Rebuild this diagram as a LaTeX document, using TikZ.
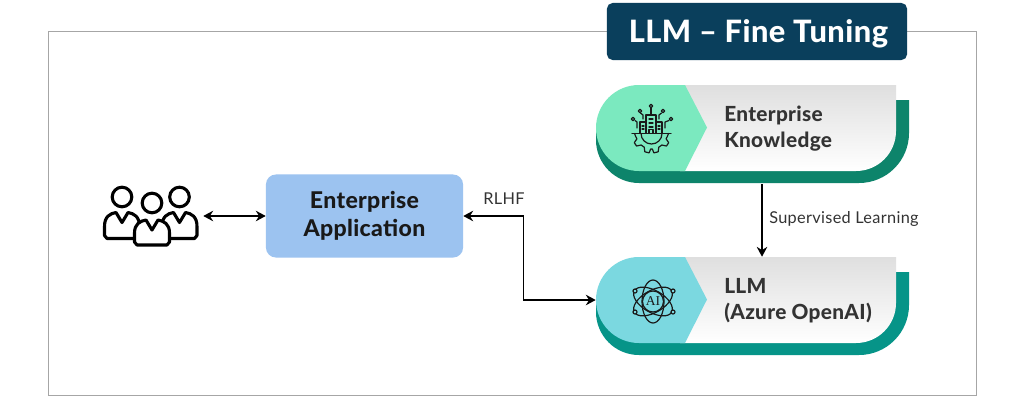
\documentclass[tikz,border=0pt]{standalone}
\usepackage{fontspec}
\setmainfont{Lato}[LetterSpace=2]
\newfontfamily\heavyfont{Lato Heavy}[LetterSpace=1.5]
\usetikzlibrary{arrows.meta}
\definecolor{navy}{HTML}{0A3F5C}
\definecolor{appblue}{HTML}{9CC3F0}
\definecolor{mint}{HTML}{7BE9BF}
\definecolor{mintdark}{HTML}{0D846B}
\definecolor{aqua}{HTML}{7BD8E0}
\definecolor{aquadark}{HTML}{069488}
\definecolor{ink}{HTML}{333333}
\definecolor{icon}{HTML}{1A1A1A}
\definecolor{framegray}{HTML}{A6A6A6}
\definecolor{cardtop}{HTML}{DFDFDF}
\newcommand{\cardshapes}[4]{% top y, tip y, left colour, shadow colour
  \fill[#4] (896,#1+15) -- (909,#1+15) -- (909,#1+48) arc[start angle=0,end angle=90,radius=50] -- (639,#1+98) arc[start angle=90,end angle=180,radius=43] -- (596,#1+43) -- cycle;
  \shade[top color=cardtop,bottom color=white] (680,#1) -- (896,#1) -- (896,#1+46) arc[start angle=0,end angle=90,radius=40] -- (680,#1+86) -- cycle;
  \fill[#3] (685,#1) -- (639,#1) arc[start angle=270,end angle=90,radius=43] -- (685,#1+86) -- (707,#2) -- cycle;
}
\tikzset{
  x=0.025cm,y=-0.025cm,
  cardanchor/.style={minimum width=7.5cm,minimum height=2.15cm,inner sep=0pt},
  cardtext/.style={anchor=base west,inner sep=0pt,text=ink,font=\heavyfont\fontsize{14.8}{17}\selectfont},
  plainlabel/.style={anchor=base west,inner sep=0pt,text=ink,font=\fontsize{11.6}{13}\selectfont},
  flow/.style={line width=1.05pt,black,-{Stealth[length=7pt,width=7.5pt]}},
  twoway/.style={line width=1.05pt,black,{Stealth[length=7pt,width=7.5pt]}-{Stealth[length=7pt,width=7.5pt]}},
  iconline/.style={draw=icon,line width=0.85pt,line join=round,line cap=round},
  personline/.style={draw=black,line width=2.2pt,line join=round,fill=white},
}
\begin{document}
\begin{tikzpicture}
\useasboundingbox (0,0) rectangle (1024,402);
\fill[white] (0,0) rectangle (1024,402);
\draw[draw=framegray,line width=0.7pt] (48,31) rectangle (976,395);
% title
\node[fill=navy,rounded corners=4pt,minimum width=7.5cm,minimum height=1.425cm,inner sep=0pt] (title) at (757,31.5) {};
\node[anchor=base,inner sep=0pt,text=white,font=\heavyfont\fontsize{21.9}{26}\selectfont] (titletext) at (758.5,42) {LLM – Fine Tuning};
% cards
\cardshapes{85}{127.5}{mint}{mintdark}
\cardshapes{257}{299.5}{aqua}{aquadark}
\node[cardanchor] (kb) at (746,128) {};
\node[cardanchor] (llm) at (746,300) {};
\node[cardtext] (kb1) at (724,121) {Enterprise};
\node[cardtext] (kb2) at (724,147) {Knowledge};
\node[cardtext] (llm1) at (724,293) {LLM};
\node[cardtext] (llm2) at (724,319) {(Azure OpenAI)};
% application
\node[fill=appblue,rounded corners=7pt,minimum width=4.925cm,minimum height=2.075cm,inner sep=0pt,align=center,text=black!90,font=\heavyfont\fontsize{16.4}{20.3}\selectfont] (app) at (364.5,216) {Enterprise\\Application};
% people
\node[minimum width=2.6cm,minimum height=1.5cm,inner sep=0pt] (people) at (151,216) {};
\foreach \cx/\bt/\cyh/\bl in {122/212.5/197/238.5,179.5/212.5/197/238.5,152/220/203/245}{
  \draw[personline] (\cx,\cyh) circle[radius=9.8];
  \draw[personline] (\cx-17.5,\bl-3) -- (\cx-17.5,\bl-12) .. controls (\cx-17.5,\bt+4) and (\cx-12,\bt+1) .. (\cx-6,\bt) -- (\cx,\bt+10) -- (\cx+6,\bt) .. controls (\cx+12,\bt+1) and (\cx+17.5,\bt+4) .. (\cx+17.5,\bl-12) -- (\cx+17.5,\bl-3) -- (\cx+15,\bl) -- (\cx-15,\bl) -- cycle;
}
% connectors
\draw[twoway] (people.east) -- (app.west);
\draw[twoway] (app.east) -- ++(60,0) |- (llm.west);
\draw[flow] ([xshift=0.4cm,yshift=-0.325cm]kb.south) -- ([xshift=0.4cm]llm.north);
\node[plainlabel] (superv) at (769,223) {Supervised Learning};
\node[plainlabel] (rlhf) at (483,204) {RLHF};
% knowledge icon
\begin{scope}[iconline]
  \draw (646,133) -- (646,115) -- (656,115) -- (656,133);
  \draw (646,122) -- (640,122) -- (640,133);
  \draw (656,122) -- (662,122) -- (662,133);
  \draw (649,119) -- (653,119) (649,123) -- (653,123) (649,127) -- (653,127) (649,133) -- (649,129.5) -- (653,129.5) -- (653,133);
  \draw (642,126) -- (644,126) (642,129) -- (644,129) (658,126) -- (660,126) (658,129) -- (660,129);
  \draw (632,133.5) -- (671,133.5);
  \draw (651,115) -- (651,108);
  \draw (651,106) circle[radius=1.8];
  \draw (643,119) -- (643,115) -- (640.5,113);
  \draw (640,111) circle[radius=1.8];
  \draw (659,119) -- (659,115) -- (661.5,113);
  \draw (663,111) circle[radius=1.8];
  \draw (637,128) -- (637,122) -- (635,120.5);
  \draw (633,119) circle[radius=1.8];
  \draw (665,128) -- (665,122) -- (669,120.5);
  \draw (671,119) circle[radius=1.8];
  \begin{scope}[shift={(651.5,133.5)}]
    \draw (-10.5,0) arc[start angle=180,end angle=0,radius=10.5];
    \draw (-17,0) -- (168:16) -- (160:15.5) -- (152:19.5) -- (140:19.5) -- (132:15.5) -- (118:15.5) -- (110:19.5) -- (97:19.5) -- (93:15.5) -- (87:15.5) -- (83:19.5) -- (70:19.5) -- (62:15.5) -- (48:15.5) -- (40:19.5) -- (28:19.5) -- (20:15.5) -- (12:16) -- (17,0);
  \end{scope}
\end{scope}
% atom icon
\begin{scope}[iconline]
  \draw (653,301.5) ellipse[x radius=11,y radius=21.5];
  \draw[rotate around={60:(653,301.5)}] (653,301.5) ellipse[x radius=11,y radius=21.5];
  \draw[rotate around={-60:(653,301.5)}] (653,301.5) ellipse[x radius=11,y radius=21.5];
  \draw[fill=aqua] (653,301.5) circle[radius=10.5];
  \foreach \sx/\sy in {635/291,673/291,635/312,673/312}{
    \draw[fill=aqua] (\sx,\sy) circle[radius=2];
  }
\end{scope}
\node[inner sep=0pt,text=icon,font=\fontspec{Liberation Serif}\fontsize{9.6}{10}\selectfont] (ai) at (653,301.5) {AI};
\end{tikzpicture}
\end{document}
